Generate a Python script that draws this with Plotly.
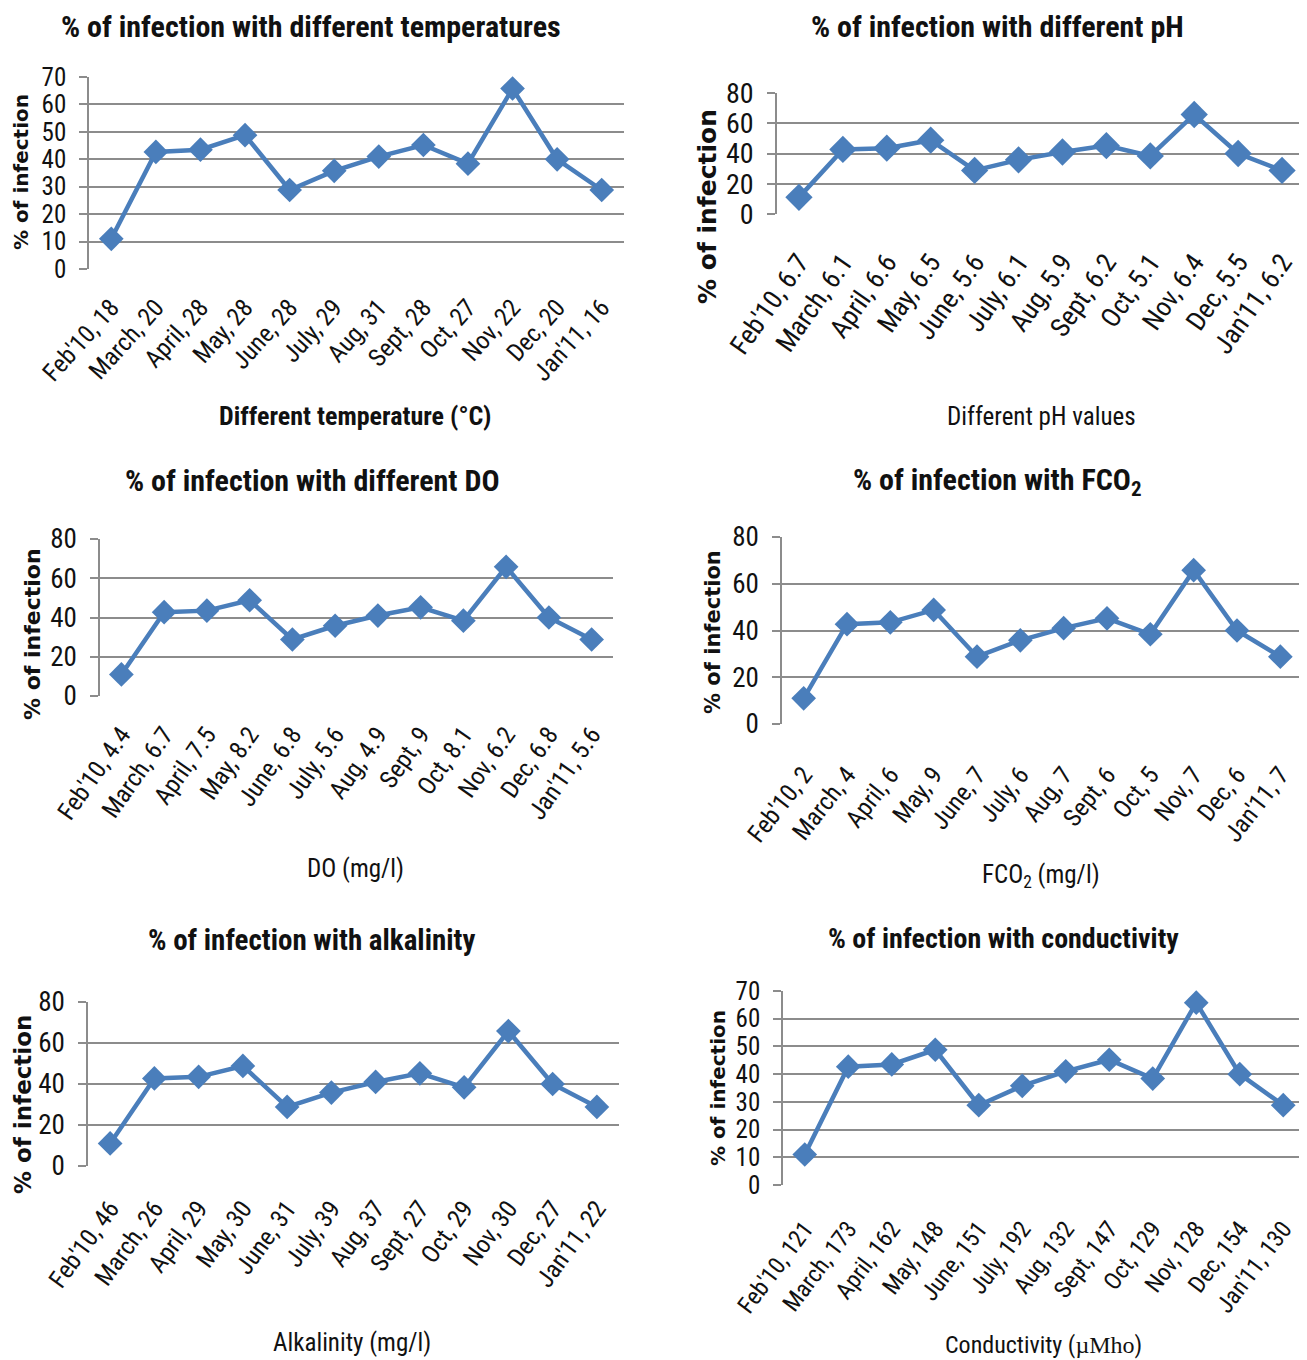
import plotly.graph_objects as go

# ---------------- data ----------------
infection_pct = [11, 42.7, 43.5, 48.8, 28.8, 35.8, 41, 45.2, 38.4, 65.8, 40, 28.8]

temp_labels = ["Feb'10, 18", "March, 20", "April, 28", "May, 28", "June, 28", "July, 29",
               "Aug, 31", "Sept, 28", "Oct, 27", "Nov, 22", "Dec, 20", "Jan'11, 16"]
ph_labels = ["Feb'10, 6.7", "March, 6.1", "April, 6.6", "May, 6.5", "June, 5.6", "July, 6.1",
             "Aug, 5.9", "Sept, 6.2", "Oct, 5.1", "Nov, 6.4", "Dec, 5.5", "Jan'11, 6.2"]
do_labels = ["Feb'10, 4.4", "March, 6.7", "April, 7.5", "May, 8.2", "June, 6.8", "July, 5.6",
             "Aug, 4.9", "Sept, 9", "Oct, 8.1", "Nov, 6.2", "Dec, 6.8", "Jan'11, 5.6"]
fco2_labels = ["Feb'10, 2", "March, 4", "April, 6", "May, 9", "June, 7", "July, 6",
               "Aug, 7", "Sept, 6", "Oct, 5", "Nov, 7", "Dec, 6", "Jan'11, 7"]
alk_labels = ["Feb'10, 46", "March, 26", "April, 29", "May, 30", "June, 31", "July, 39",
              "Aug, 37", "Sept, 27", "Oct, 29", "Nov, 30", "Dec, 27", "Jan'11, 22"]
cond_labels = ["Feb'10, 121", "March, 173", "April, 162", "May, 148", "June, 151", "July, 192",
               "Aug, 132", "Sept, 147", "Oct, 129", "Nov, 128", "Dec, 154", "Jan'11, 130"]

titles = ["% of infection with different temperatures",
          "% of infection with different pH",
          "% of infection with different DO",
          "% of infection with FCO<sub>2</sub>",
          "% of infection with alkalinity",
          "% of infection with conductivity"]
x_titles = ["<b>Different temperature (°C)</b>",
            "Different pH values",
            "DO (mg/l)",
            "FCO<sub>2</sub> (mg/l)",
            "Alkalinity (mg/l)",
            "Conductivity (<span style='font-family:Liberation Serif'>µMho</span>)"]
y_title = "% of infection"
y_max = [70, 80, 80, 80, 80, 70]
y_dtick = [10, 20, 20, 20, 20, 10]
all_labels = [temp_labels, ph_labels, do_labels, fco2_labels, alk_labels, cond_labels]

# ---------------- layout (pixels in the page, body margin = 8px) ----------------
OFF = 8
W, H = 1307 - OFF, 1360 - OFF
FONT = "Liberation Sans Narrow, Arial Narrow, Roboto Condensed, Open Sans, sans-serif"
LINE = "#4A7EBB"
GRID = "#8C8C8C"


def fx(v):
    return (v - OFF) / W


def fy(v):
    return 1 - (v - OFF) / H


panels = [
    dict(xd=(89, 624), yd=(77, 269), tx=311, ty=26, ts=30, xtx=355, xty=416, xts=26,
         ytx=21, yty=172, yts=20, tick=25, xtick=25, ang=-48, std=18, msize=19),
    dict(xd=(777, 1304), yd=(93, 214), tx=997, ty=26, ts=30, xtx=1041, xty=416, xts=25,
         ytx=707, yty=207, yts=25, tick=28, xtick=27, ang=-55, std=26, msize=21),
    dict(xd=(100, 613), yd=(539, 696), tx=312, ty=480, ts=30, xtx=355, xty=868, xts=25,
         ytx=32, yty=634, yts=22, tick=27, xtick=25, ang=-55, std=18, msize=19),
    dict(xd=(782, 1302), yd=(537, 724), tx=997, ty=481, ts=30, xtx=1041, xty=876, xts=25,
         ytx=713, yty=632, yts=21, tick=27, xtick=25, ang=-52, std=30, msize=19),
    dict(xd=(88, 619), yd=(1002, 1166), tx=311, ty=940, ts=29, xtx=352, xty=1342, xts=25,
         ytx=23, yty=1105, yts=23, tick=27, xtick=25, ang=-54, std=22, msize=19),
    dict(xd=(783, 1305), yd=(991, 1185), tx=1003, ty=938, ts=28, xtx=1043, xty=1345, xts=24,
         ytx=718, yty=1088, yts=20, tick=25, xtick=24, ang=-53, std=24, msize=19),
]

fig = go.Figure()
annotations = []
layout = dict(width=W, height=H, margin=dict(l=0, r=0, t=0, b=0, autoexpand=False),
              paper_bgcolor="white", plot_bgcolor="white", showlegend=False,
              font=dict(family=FONT, color="#000000"))

for i, p in enumerate(panels):
    n = "" if i == 0 else str(i + 1)
    fig.add_trace(go.Scatter(
        x=all_labels[i], y=infection_pct, mode="lines+markers",
        line=dict(color=LINE, width=4.5),
        marker=dict(symbol="diamond", size=p["msize"], color=LINE),
        xaxis="x" + n, yaxis="y" + n, cliponaxis=False))
    layout["xaxis" + n] = dict(
        domain=[fx(p["xd"][0]), fx(p["xd"][1])], anchor="y" + n, automargin=False,
        type="category", range=[-0.5, 11.5], showgrid=False, zeroline=False,
        showline=False, ticks="", tickangle=p["ang"],
        tickfont=dict(size=p["xtick"], family=FONT, color="#111"),
        ticklabelstandoff=p["std"], fixedrange=True)
    layout["yaxis" + n] = dict(
        domain=[fy(p["yd"][1]), fy(p["yd"][0])], anchor="x" + n, automargin=False,
        range=[0, y_max[i]], dtick=y_dtick[i], tick0=0,
        showgrid=True, gridcolor=GRID, gridwidth=1.5,
        showline=True, linecolor=GRID, linewidth=1.5,
        ticks="outside", ticklen=8, tickcolor=GRID, tickwidth=1.5,
        zeroline=False, tickfont=dict(size=p["tick"], family=FONT, color="#111"),
        ticklabelstandoff=8, fixedrange=True)
    annotations.append(dict(text="<b>" + titles[i] + "</b>", x=fx(p["tx"]), y=fy(p["ty"]),
                            xref="paper", yref="paper", showarrow=False,
                            xanchor="center", yanchor="middle",
                            font=dict(size=p["ts"], family=FONT, color="#111")))
    annotations.append(dict(text=x_titles[i], x=fx(p["xtx"]), y=fy(p["xty"]),
                            xref="paper", yref="paper", showarrow=False,
                            xanchor="center", yanchor="middle",
                            font=dict(size=p["xts"], family=FONT, color="#111")))
    annotations.append(dict(text="<b>" + y_title + "</b>", x=fx(p["ytx"]), y=fy(p["yty"]),
                            xref="paper", yref="paper", showarrow=False, textangle=-90,
                            xanchor="center", yanchor="middle",
                            font=dict(size=p["yts"], family="DejaVu Sans, Verdana, sans-serif",
                                      color="#111")))

layout["annotations"] = annotations
fig.update_layout(**layout)
fig.write_html("out.html")
